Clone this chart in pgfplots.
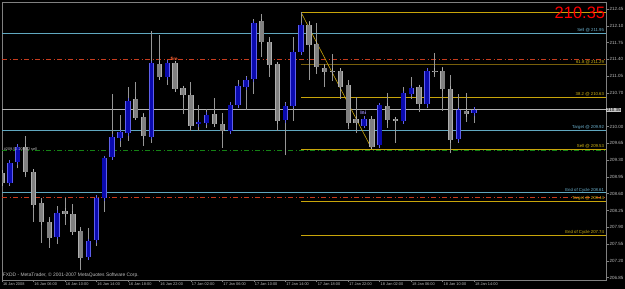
\documentclass[border=0pt]{standalone}
\usepackage{pgfplots}
\pgfplotsset{compat=1.18}
\usepackage{pgfplotstable}
\usepackage{fontspec}
\setmainfont{Liberation Sans}

\definecolor{frameGray}{RGB}{128,128,128}
\definecolor{tickText}{RGB}{190,190,190}
\definecolor{wickGray}{RGB}{150,150,150}
\definecolor{blueFill}{RGB}{10,10,175}
\definecolor{blueEdge}{RGB}{95,95,235}
\definecolor{grayFill}{RGB}{128,128,128}
\definecolor{grayEdge}{RGB}{175,175,175}
\definecolor{cyanLine}{RGB}{96,168,192}
\definecolor{cyanText}{RGB}{110,180,210}
\definecolor{goldLine}{RGB}{200,165,10}
\definecolor{goldText}{RGB}{210,180,20}
\definecolor{oliveLine}{RGB}{120,95,10}
\definecolor{redDash}{RGB}{200,60,30}
\definecolor{greenDash}{RGB}{20,130,20}
\definecolor{priceLine}{RGB}{180,180,180}
\definecolor{boxGray}{RGB}{200,200,200}
\definecolor{iniText}{RGB}{160,140,255}
\definecolor{fireText}{RGB}{255,100,50}

\newcommand\lbl{\fontsize{4.3}{4.3}\selectfont}

% i open high low close
\pgfplotstableread{
i o h l c
1 208.83 209.30 208.77 209.25
2 209.26 209.64 209.13 209.58
7 207.71 208.35 207.55 208.21
11 207.28 207.88 207.22 207.61
12 207.64 208.51 207.52 208.51
13 208.51 209.34 208.23 209.34
14 209.37 210.68 209.34 209.78
15 209.76 210.24 209.58 209.88
16 209.86 210.82 209.70 210.54
19 209.79 211.99 209.66 211.32
21 211.03 211.33 210.87 211.33
25 210.05 210.44 209.91 210.09
26 210.08 210.37 209.97 210.24
29 209.90 210.50 209.90 210.46
30 210.45 210.97 210.40 210.84
31 210.82 211.05 210.35 210.97
32 210.99 212.25 210.68 212.15
36 210.13 210.51 209.40 210.44
37 210.44 211.86 210.12 211.55
38 211.55 212.38 211.55 212.11
46 210.02 210.16 209.98 210.16
48 209.62 210.47 209.60 210.44
51 210.12 210.82 210.08 210.69
52 210.69 211.04 210.58 210.80
54 210.47 211.18 210.38 211.16
58 209.74 210.68 209.66 210.34
60 210.28 210.40 210.08 210.35
}\bull

\pgfplotstableread{
i o h l c
0 209.04 209.08 208.80 208.82
3 209.58 209.80 208.94 209.05
4 209.05 209.05 208.02 208.37
5 208.40 208.51 207.58 208.01
6 208.01 208.12 207.48 207.69
8 208.24 208.51 207.95 208.17
9 208.19 208.38 207.76 207.80
10 207.82 207.91 207.01 207.27
17 210.57 210.93 210.14 210.19
18 210.21 210.28 209.60 209.80
20 211.31 211.91 210.99 211.03
22 211.32 211.32 210.76 210.78
23 210.80 210.80 210.26 210.66
24 210.65 210.93 209.91 210.02
27 210.26 210.59 210.05 210.05
28 210.05 210.28 209.56 209.91
33 212.19 212.35 211.46 211.77
34 211.76 211.86 211.03 211.28
35 211.30 211.30 209.91 210.12
39 212.12 212.19 210.97 211.71
40 211.73 212.15 211.10 211.25
41 211.23 211.30 210.82 211.14
42 211.16 211.51 210.95 211.14
43 211.16 211.19 210.58 210.83
44 210.86 210.97 209.94 210.08
45 210.16 210.61 209.87 210.08
47 210.16 210.16 209.54 209.58
49 210.43 210.71 209.98 210.13
50 210.15 210.15 209.66 210.13
53 210.82 210.82 210.31 210.47
55 211.16 211.54 211.04 211.15
56 211.16 211.24 210.33 210.79
57 210.79 211.07 209.44 209.72
59 210.33 210.69 210.10 210.26
}\bear

\begin{document}
\begin{tikzpicture}
\fill[black] (0,0) rectangle (625pt,289pt);
\useasboundingbox (0,0) rectangle (625pt,289pt);
\begin{axis}[
  at={(2pt,9pt)}, anchor=south west,
  scale only axis, width=604pt, height=278pt,
  xmin=0, xmax=76.75, ymin=206.804, ymax=212.596,
  clip mode=individual,
  axis line style={draw=frameGray, line width=0.7pt},
  tick style={draw=frameGray, line width=0.6pt},
  tick align=outside, major tick length=2.5pt,
  ytick pos=right, yticklabel pos=right,
  xtick pos=bottom,
  ytick={206.85,207.20,207.55,207.90,208.25,208.60,208.95,209.30,209.65,210.00,210.70,211.05,211.40,211.75,212.10,212.45},
  yticklabel style={font=\fontsize{4.5}{4.5}\selectfont, text=tickText, inner sep=1pt,
    /pgf/number format/fixed, /pgf/number format/fixed zerofill, /pgf/number format/precision=2},
  xtick={0,4,...,60},
  xticklabels={16 Jan 2008,16 Jan 06:00,16 Jan 10:00,16 Jan 14:00,16 Jan 18:00,16 Jan 22:00,17 Jan 02:00,17 Jan 06:00,17 Jan 10:00,17 Jan 14:00,17 Jan 18:00,17 Jan 22:00,18 Jan 02:00,18 Jan 06:00,18 Jan 10:00,18 Jan 14:00},
  xticklabel style={font=\fontsize{3.9}{3.9}\selectfont, text=tickText, anchor=north west, inner sep=0pt, xshift=0.8pt, yshift=-0.5pt},
  /pgf/number format/assume math mode=true,
]
% horizontal levels, full width
\addplot[cyanLine, line width=0.6pt, forget plot] coordinates {(0,211.95) (76.75,211.95)};
\addplot[redDash, line width=0.6pt, dash pattern=on 5pt off 2.5pt on 1pt off 2.5pt, forget plot] coordinates {(0,211.40) (76.75,211.40)};
\addplot[priceLine, line width=0.6pt, forget plot] coordinates {(0,210.35) (76.75,210.35)};
\addplot[cyanLine, line width=0.6pt, forget plot] coordinates {(0,209.92) (76.75,209.92)};
\addplot[greenDash, line width=0.8pt, dash pattern=on 5pt off 2.5pt on 1pt off 2.5pt, forget plot] coordinates {(0,209.50) (76.75,209.50)};
\addplot[cyanLine, line width=0.9pt, forget plot] coordinates {(0,208.62) (76.75,208.62)};
\addplot[redDash, line width=0.6pt, dash pattern=on 5pt off 2.5pt on 1pt off 2.5pt, forget plot] coordinates {(0,208.53) (76.75,208.53)};
% fibonacci levels from candle 38
\addplot[goldLine, line width=0.6pt, forget plot] coordinates {(38,212.38) (76.75,212.38)};
\addplot[oliveLine, line width=1.6pt, forget plot] coordinates {(38,211.29) (76.75,211.29)};
\addplot[goldLine, line width=0.6pt, forget plot] coordinates {(38,210.62) (76.75,210.62)};
\addplot[goldLine, line width=0.6pt, forget plot] coordinates {(38,209.53) (76.75,209.53)};
\addplot[goldLine, line width=0.6pt, forget plot] coordinates {(38,208.44) (76.75,208.44)};
\addplot[goldLine, line width=0.6pt, forget plot] coordinates {(38,207.74) (76.75,207.74)};
\addplot[goldLine, line width=0.6pt, forget plot] coordinates {(38,212.38) (47,209.53)};

% wicks
\addplot[draw=none, mark=none, forget plot, error bars/.cd, y dir=plus, y explicit,
  error bar style={draw=wickGray, line width=0.8pt}, error mark=none]
  table[x=i, y=l, y error plus expr={\thisrow{h}-\thisrow{l}}] {\bull};
\addplot[draw=none, mark=none, forget plot, error bars/.cd, y dir=plus, y explicit,
  error bar style={draw=wickGray, line width=0.8pt}, error mark=none]
  table[x=i, y=l, y error plus expr={\thisrow{h}-\thisrow{l}}] {\bear};
% bodies: edge
\addplot[draw=none, mark=none, forget plot, error bars/.cd, y dir=both, y explicit,
  error bar style={draw=blueEdge, line width=5.4pt}, error mark=-,
  error mark options={draw=blueEdge, line width=0.8pt, mark size=2.7pt}]
  table[x=i, y expr={(\thisrow{o}+\thisrow{c})/2}, y error expr={abs(\thisrow{c}-\thisrow{o})/2}] {\bull};
\addplot[draw=none, mark=none, forget plot, error bars/.cd, y dir=both, y explicit,
  error bar style={draw=grayEdge, line width=5.4pt}, error mark=-,
  error mark options={draw=grayEdge, line width=0.8pt, mark size=2.7pt}]
  table[x=i, y expr={(\thisrow{o}+\thisrow{c})/2}, y error expr={abs(\thisrow{c}-\thisrow{o})/2}] {\bear};
% bodies: fill
\addplot[draw=none, mark=none, forget plot, error bars/.cd, y dir=both, y explicit,
  error bar style={draw=blueFill, line width=3.8pt}, error mark=none]
  table[x=i, y expr={(\thisrow{o}+\thisrow{c})/2}, y error expr={abs(\thisrow{c}-\thisrow{o})/2}] {\bull};
\addplot[draw=none, mark=none, forget plot, error bars/.cd, y dir=both, y explicit,
  error bar style={draw=grayFill, line width=3.8pt}, error mark=none]
  table[x=i, y expr={(\thisrow{o}+\thisrow{c})/2}, y error expr={abs(\thisrow{c}-\thisrow{o})/2}] {\bear};

% labels
\node[anchor=north east, inner sep=0pt, text=red, font=\fontsize{16.5}{16.5}\selectfont] at (axis cs:76.67,212.49) {210.35};
\node[anchor=south east, inner sep=0.6pt, text=cyanText, font=\lbl] at (axis cs:76.6,211.95) {Sell @ 211.95};
\node[anchor=south east, inner sep=0.6pt, text=goldText, font=\lbl] at (axis cs:76.6,211.29) {61.8 @ 211.29};
\node[anchor=south east, inner sep=0.6pt, text=goldText, font=\lbl] at (axis cs:76.6,210.62) {38.2 @ 210.63};
\node[anchor=south east, inner sep=0.6pt, text=cyanText, font=\lbl] at (axis cs:76.6,209.92) {Target @ 209.92};
\node[anchor=south east, inner sep=0.6pt, text=goldText, font=\lbl] at (axis cs:76.6,209.53) {Sell @ 209.53};
\node[anchor=south east, inner sep=0.6pt, text=cyanText, font=\lbl] at (axis cs:76.6,208.62) {End of Cycle  208.61};
\node[anchor=south east, inner sep=0.6pt, text=goldText, font=\lbl] at (axis cs:76.6,208.44) {Target @ 208.44};
\node[anchor=south east, inner sep=0.6pt, text=goldText, font=\lbl] at (axis cs:76.6,207.74) {End of Cycle  207.74};
\node[anchor=west, fill=boxGray, text=black, inner sep=0.7pt, font=\fontsize{4.5}{4.5}\selectfont] at (axis cs:76.75,210.35) {210.35};
\node[anchor=south west, inner sep=0.4pt, text=tickText, font=\fontsize{3.8}{3.8}\selectfont] at (axis cs:0.15,209.48) {\#209.52 209.52 sell};
\node[anchor=center, inner sep=0pt, text=fireText, font=\fontsize{4.5}{4.5}\selectfont\bfseries] at (axis cs:21.87,211.41) {fire};
\node[anchor=center, inner sep=0pt, text=iniText, font=\fontsize{5}{5}\selectfont\bfseries] at (axis cs:45.9,210.29) {Ini};
\node[anchor=base west, inner sep=0pt, text=tickText, font=\fontsize{4.9}{4.9}\selectfont] at (axis cs:0.09,206.867) {FXDD - MetaTrader, \textcopyright\ 2001-2007 MetaQuotes Software Corp.};
\end{axis}
\end{tikzpicture}
\end{document}
